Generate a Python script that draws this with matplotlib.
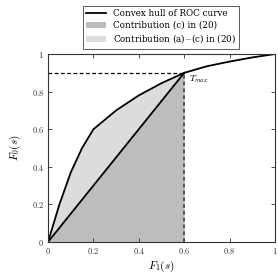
import matplotlib
matplotlib.use('Agg')
import matplotlib.pyplot as plt
import numpy as np

plt.rcParams['mathtext.fontset'] = 'cm'
plt.rcParams['font.family'] = 'serif'
plt.rcParams['font.serif'] = ['DejaVu Serif']

# convex hull of ROC curve
hull_x = [0.0, 0.05, 0.1, 0.15, 0.2, 0.3, 0.4, 0.5, 0.6, 0.7, 0.8, 0.9, 1.0]
hull_y = [0.0, 0.2, 0.37, 0.5, 0.6, 0.7, 0.78, 0.845, 0.9, 0.935, 0.96, 0.982, 1.0]
t_x, t_y = 0.6, 0.9
ticks = [0, 0.2, 0.4, 0.6, 0.8, 1]
tick_labels = ['$0$', '$0.2$', '$0.4$', '$0.6$', '$0.8$', '$1$']

fig = plt.figure(figsize=(2.78, 2.73), dpi=100)
ax = fig.add_axes([0.173, 0.114, 0.816, 0.688])

hx = np.array(hull_x)
hy = np.array(hull_y)
m = hx <= t_x
cx = hx[m]
chord = cx * t_y / t_x

ax.fill_between(cx, chord, hy[m], color='#dcdcdc', lw=0,
                label='Contribution (a)$-$(c) in (20)')
ax.fill_between(cx, 0, chord, color='#bdbdbd', lw=0,
                label='Contribution (c) in (20)')
ax.plot([0, t_x], [0, t_y], color='black', lw=1.3)
ax.plot(hx, hy, color='black', lw=1.3, label='Convex hull of ROC curve')
ax.plot([0, t_x], [t_y, t_y], color='black', lw=0.9, ls=(0, (3, 2)))
ax.plot([t_x, t_x], [0, t_y], color='#555555', lw=1.4, ls=(0, (2, 1.5)))
ax.text(t_x + 0.02, t_y - 0.035, r'$T_{max}$', fontsize=6.5, va='center')

ax.set_xlim(0, 1)
ax.set_ylim(0, 1)
ax.set_xticks(ticks)
ax.set_xticklabels(tick_labels)
ax.set_yticks(ticks)
ax.set_yticklabels(tick_labels)
ax.tick_params(direction='in', top=True, right=True, labelsize=6, length=3,
               width=0.6, colors='#333333', pad=3)
for s in ax.spines.values():
    s.set_linewidth(0.8)
    s.set_color('#333333')
ax.set_xlabel('$F_1(s)$', fontsize=8, labelpad=2)
ax.set_ylabel('$F_0(s)$', fontsize=8, labelpad=6)

h, l = ax.get_legend_handles_labels()
order = [2, 1, 0]
leg = fig.legend([h[i] for i in order], [l[i] for i in order],
                 loc='upper center', bbox_to_anchor=(0.58, 0.995),
                 fontsize=6.3, fancybox=False, edgecolor='#333333',
                 handlelength=2.2, borderpad=0.4, labelspacing=0.3)
leg.get_frame().set_linewidth(0.7)

fig.savefig('out.png', dpi=100)
